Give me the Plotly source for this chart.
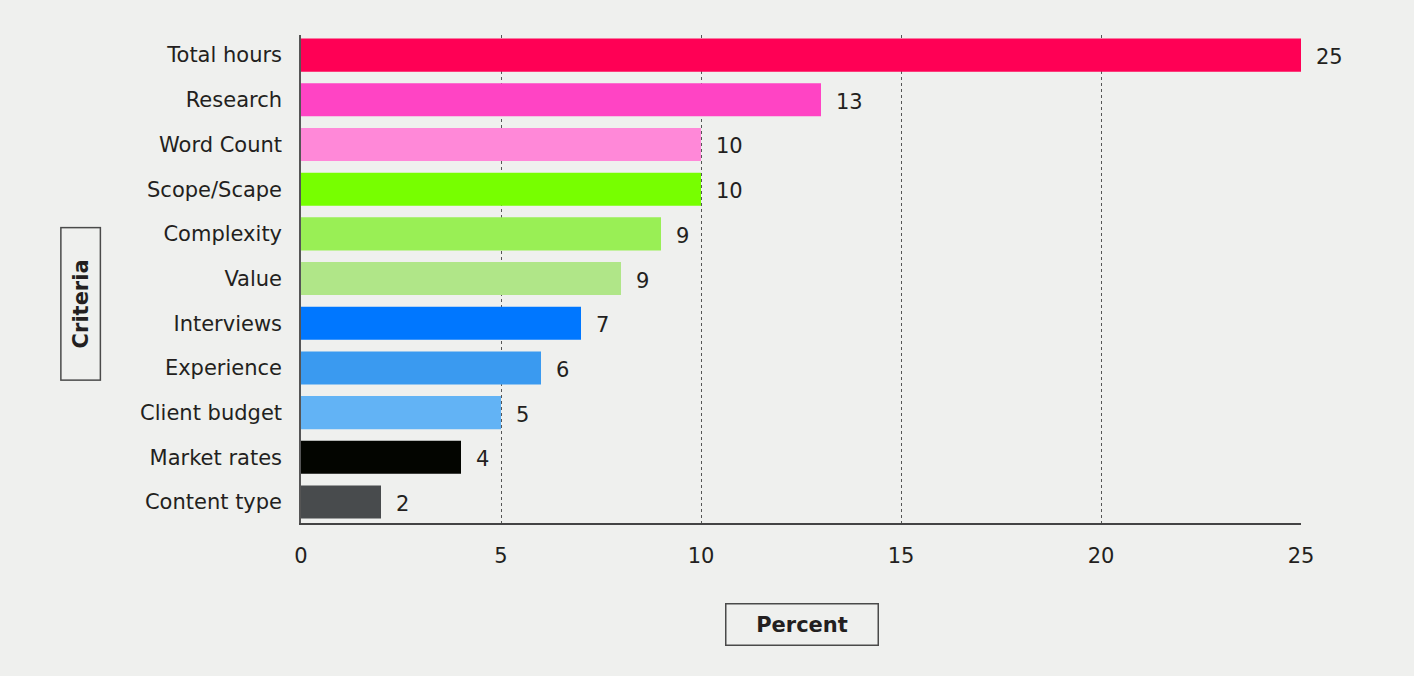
import plotly.graph_objects as go

criteria = ['Total hours', 'Research', 'Word Count', 'Scope/Scape', 'Complexity', 'Value',
            'Interviews', 'Experience', 'Client budget', 'Market rates', 'Content type']
bar_values = [25, 13, 10, 10, 9, 8, 7, 6, 5, 4, 2]
value_labels = ['25', '13', '10', '10', '9', '9', '7', '6', '5', '4', '2']
bar_colors = ['#ff0055', '#ff44c4', '#ff88d8', '#77ff00', '#99ef55', '#b0e688',
              '#0077ff', '#3a9af0', '#62b3f5', '#030500', '#484b4d']
x_ticks = [0, 5, 10, 15, 20, 25]

font = 'DejaVu Sans'
bg = '#eff0ee'
ink = '#231f20'

fig = go.Figure()
fig.add_trace(go.Bar(
    x=bar_values, y=criteria, orientation='h',
    marker=dict(color=bar_colors, line=dict(width=0)),
    width=0.74, hoverinfo='skip'))

for c, v, lab in zip(criteria, bar_values, value_labels):
    fig.add_annotation(x=v, y=c, text=lab, showarrow=False, xanchor='left',
                       xshift=13, yshift=-2, font=dict(family=font, size=21, color=ink))

fig.add_annotation(xref='paper', yref='paper', x=0.5005, y=-0.252, text='<b>Percent</b>',
                   showarrow=False, width=149, height=38, bordercolor='#4a4a4a', borderwidth=1.5,
                   font=dict(family=font, size=21, color=ink))
fig.add_annotation(xref='paper', yref='paper', x=-0.2205, y=0.448, xanchor='center',
                   yanchor='middle', text='<b>Criteria</b>',
                   showarrow=False, textangle=-90, width=149, height=36,
                   bordercolor='#4a4a4a', borderwidth=1.5,
                   font=dict(family=font, size=21, color=ink))

fig.update_layout(
    width=1414, height=676,
    margin=dict(l=301, r=113, t=35, b=153),
    paper_bgcolor=bg, plot_bgcolor=bg,
    showlegend=False,
    font=dict(family=font, size=21, color=ink),
)
fig.update_xaxes(range=[0, 25], tickvals=x_ticks, showgrid=True, gridcolor='#555555',
                 griddash='dot', gridwidth=1, zeroline=False, showline=True,
                 linecolor='#444444', linewidth=1.5, ticks='', ticklabelstandoff=13,
                 tickfont=dict(family=font, size=21, color=ink))
fig.update_yaxes(categoryorder='array', categoryarray=criteria, autorange=False,
                 range=[10.47, -0.45], showgrid=False, zeroline=False, showline=True,
                 linecolor='#555555', linewidth=1.5, ticks='', ticklabelstandoff=13,
                 tickfont=dict(family=font, size=21, color=ink))

fig.write_html('out.html', config={'displayModeBar': False},
               post_script="document.body.style.margin='0';document.body.style.background='#eff0ee';")
